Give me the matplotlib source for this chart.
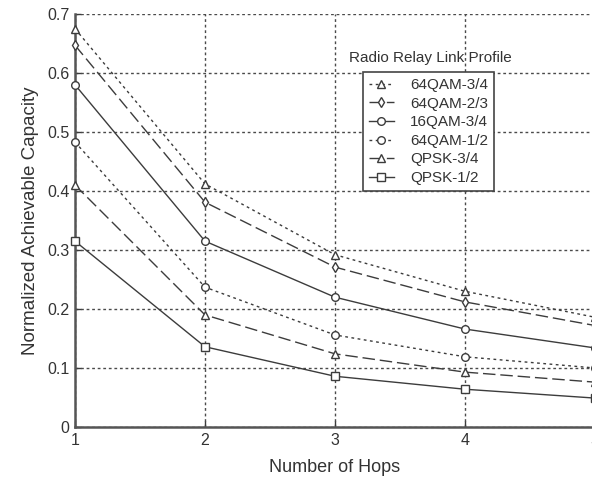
import numpy as np
import matplotlib
matplotlib.use("Agg")
import matplotlib.pyplot as plt

plt.rcParams['font.family'] = ['Liberation Sans', 'DejaVu Sans']

# Datos
hops = [1, 2, 3, 4, 5]
qam64_34 = [0.675, 0.412, 0.292, 0.230, 0.186]
qam64_23 = [0.647, 0.381, 0.271, 0.212, 0.172]
qam16_34 = [0.580, 0.315, 0.220, 0.166, 0.134]
qam64_12 = [0.483, 0.237, 0.156, 0.119, 0.100]
qpsk_34 = [0.410, 0.190, 0.124, 0.093, 0.076]
qpsk_12 = [0.315, 0.136, 0.086, 0.064, 0.049]

labels = ["64QAM-3/4", "64QAM-2/3", "16QAM-3/4", "64QAM-1/2", "QPSK-3/4", "QPSK-1/2"]
series = [qam64_34, qam64_23, qam16_34, qam64_12, qpsk_34, qpsk_12]
markers = ["^", "d", "o", "o", "^", "s"]
dotted = (0, (2, 2.5))
dashed = (0, (9, 3.5))
styles = [dotted, dashed, "-", dotted, dashed, "-"]

yticks = [0, 0.1, 0.2, 0.3, 0.4, 0.5, 0.6, 0.7]
ytick_labels = ["0", "0.1", "0.2", "0.3", "0.4", "0.5", "0.6", "0.7"]

col = "#3c3c3c"

fig = plt.figure(figsize=(5.92, 4.78), dpi=100)
ax = fig.add_axes([75/592, 51/478, 520/592, 413/478])

handles = []
for y, lab, m, ls in zip(series, labels, markers, styles):
    h, = ax.plot(hops, y, linestyle=ls, marker=m, color=col, lw=1.0,
                 markersize=5.5, markerfacecolor="white", markeredgecolor=col,
                 markeredgewidth=1.0, label=lab, clip_on=False, zorder=3)
    handles.append(h)

ax.set_xlim(1, 5)
ax.set_ylim(0, 0.7)
ax.set_xticks(hops)
ax.set_yticks(yticks)
ax.set_yticklabels(ytick_labels)
ax.tick_params(direction="in", length=4, width=1, colors=col, labelsize=11.5,
               labelcolor="#333333", pad=4)
ax.grid(True, linestyle=(0, (2, 2)), color="#4a4a4a", lw=1.0)
for s in ["top", "right"]:
    ax.spines[s].set_visible(False)
for s in ["left", "bottom"]:
    ax.spines[s].set_color("#555555")
    ax.spines[s].set_linewidth(1.8)

ax.set_xlabel("Number of Hops", fontsize=13, color="#333333", labelpad=8)
ax.set_ylabel("Normalized Achievable Capacity", fontsize=13.5, color="#333333", labelpad=6)

leg = fig.legend(handles=handles, loc="upper left", bbox_to_anchor=(363/592, 1 - 72/478),
                 borderaxespad=0, fontsize=11, frameon=True, fancybox=False,
                 handlelength=1.6, handletextpad=1.1, labelspacing=0.3,
                 borderpad=0.4, labelcolor="#333333")
leg.get_frame().set_edgecolor("#444444")
leg.get_frame().set_linewidth(1.2)
leg.get_frame().set_alpha(1)

fig.text(430/592, 1 - 58/478, "Radio Relay Link Profile", ha="center", va="center",
         fontsize=11, color="#333333")

fig.savefig("out.png", dpi=100)
